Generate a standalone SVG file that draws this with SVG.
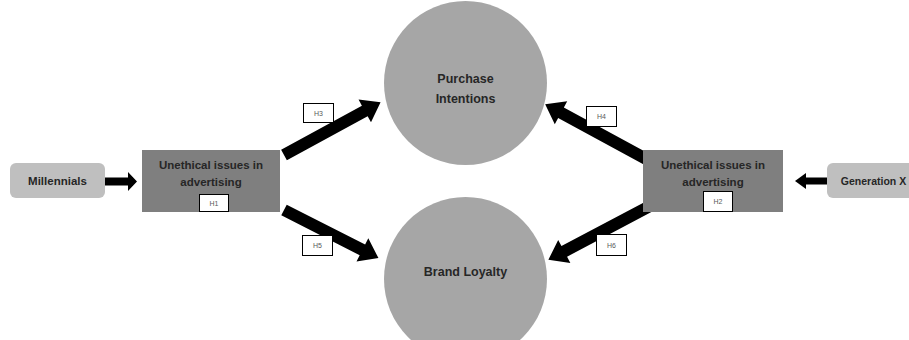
<svg xmlns="http://www.w3.org/2000/svg" width="909" height="340" viewBox="0 0 909 340">
  <style>
    .lbl { font-family: "Liberation Sans", Arial, sans-serif; font-weight: bold; fill: #262626; text-anchor: middle; }
    .hbox { fill: #ffffff; stroke: #000000; stroke-width: 1; }
    .htxt { font-family: "Liberation Sans", Arial, sans-serif; font-size: 7px; fill: #595959; text-anchor: middle; }
    .arrow { fill: #000000; }
    .light { fill: #bfbfbf; }
    .dark { fill: #7f7f7f; }
    .circ { fill: #a6a6a6; }
  </style>
  <rect width="909" height="340" fill="#ffffff"/>

  <g id="connectors">
    <!-- Millennials -> box -->
    <path class="arrow" d="M104,177.5 H128 V172 L137,181.5 L128,191 V185.5 H104 Z"/>
    <!-- Generation X -> box -->
    <path class="arrow" d="M829,177.5 H806 V173 L795,181 L806,189 V184.5 H829 Z"/>
    <!-- H3 -->
    <path class="arrow" transform="translate(284,155) rotate(-28.6)" d="M0,-6 H92 V-13 L110,0 L92,13 V6 H0 Z"/>
    <!-- H5 -->
    <path class="arrow" transform="translate(284,210) rotate(27)" d="M0,-6 H88 V-13 L106,0 L88,13 V6 H0 Z"/>
    <!-- H4 -->
    <path class="arrow" transform="translate(648,160) rotate(-151.5)" d="M0,-6 H99 V-13 L117,0 L99,13 V6 H0 Z"/>
    <!-- H6 -->
    <path class="arrow" transform="translate(650,206) rotate(152.1)" d="M0,-6 H97 V-13 L115,0 L97,13 V6 H0 Z"/>
  </g>

  <g id="millennials">
    <rect class="light" x="10" y="163" width="95" height="35" rx="6"/>
    <text class="lbl" x="57.5" y="185" font-size="11.5">Millennials</text>
  </g>

  <g id="generation-x">
    <rect class="light" x="827" y="163" width="100" height="35" rx="6"/>
    <text class="lbl" x="873.5" y="185" font-size="10.5">Generation X</text>
  </g>

  <g id="unethical-left">
    <rect class="dark" x="142" y="150" width="138" height="62"/>
    <text class="lbl" x="211" y="169" font-size="11.5">Unethical issues in</text>
    <text class="lbl" x="211" y="186" font-size="11.5">advertising</text>
    <rect class="hbox" x="199.5" y="194.5" width="29" height="17"/>
    <text class="htxt" x="214" y="205.5">H1</text>
  </g>

  <g id="unethical-right">
    <rect class="dark" x="643" y="150" width="140" height="62"/>
    <text class="lbl" x="713" y="169" font-size="11.5">Unethical issues in</text>
    <text class="lbl" x="713" y="186" font-size="11.5">advertising</text>
    <rect class="hbox" x="703.5" y="191.5" width="29" height="20"/>
    <text class="htxt" x="718" y="204">H2</text>
  </g>

  <g id="purchase-intentions">
    <ellipse class="circ" cx="465.5" cy="83" rx="81.5" ry="82"/>
    <text class="lbl" x="465.5" y="83" font-size="12.5">Purchase</text>
    <text class="lbl" x="465.5" y="103" font-size="12.5">Intentions</text>
  </g>

  <g id="brand-loyalty">
    <ellipse class="circ" cx="465.5" cy="279" rx="81.5" ry="82"/>
    <text class="lbl" x="465.5" y="276" font-size="12.5">Brand Loyalty</text>
  </g>

  <g id="connector-labels">
    <rect class="hbox" x="303.5" y="103.5" width="30" height="19"/>
    <text class="htxt" x="318.5" y="115.5">H3</text>
    <rect class="hbox" x="586.5" y="106.5" width="30" height="20"/>
    <text class="htxt" x="601.5" y="119">H4</text>
    <rect class="hbox" x="302.5" y="235.5" width="30" height="20"/>
    <text class="htxt" x="317.5" y="248">H5</text>
    <rect class="hbox" x="596.5" y="234.5" width="30" height="21"/>
    <text class="htxt" x="611.5" y="247.5">H6</text>
  </g>
</svg>
